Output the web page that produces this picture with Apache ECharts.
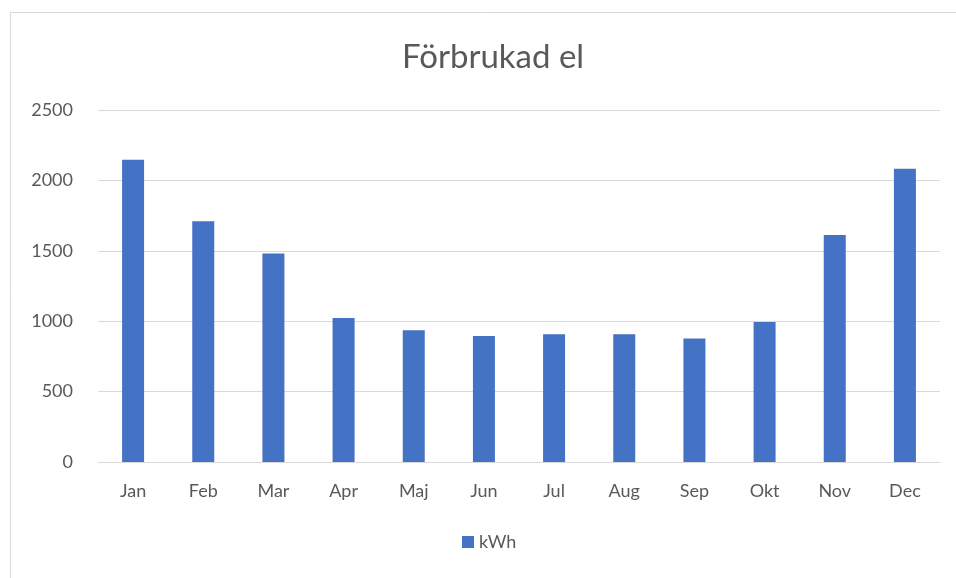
<!DOCTYPE html>
<html>
<head>
<meta charset="utf-8">
<script src="https://cdn.jsdelivr.net/npm/echarts@6/dist/echarts.min.js"></script>
<style>html,body{margin:0;padding:0;background:#fff}#c{width:956px;height:578px}</style>
</head>
<body>
<div id="c"></div>
<script>
const categories = ['Jan','Feb','Mar','Apr','Maj','Jun','Jul','Aug','Sep','Okt','Nov','Dec'];
const kWh = [2147,1709,1480,1023,935,895,907,907,878,994,1613,2083];
const seriesName = 'kWh';
const titleText = 'Förbrukad el';

const chart = echarts.init(document.getElementById('c'), null, {renderer:'canvas'});
chart.setOption({
  backgroundColor:'#fff',
  animation:false,
  graphic:[{type:'rect', shape:{x:10.5,y:12.5,width:980,height:600}, style:{fill:'none',stroke:'#d9d9d9',lineWidth:1}, z:-1}],
  title:{text:titleText, left:397, top:36, textStyle:{fontFamily:'Lato', fontSize:33, fontWeight:'normal', color:'#595959'}},
  grid:{left:98, right:16, top:110, bottom:116, containLabel:false},
  xAxis:{type:'category', data:categories,
    axisLine:{lineStyle:{color:'#d9d9d9'}}, axisTick:{show:false},
    axisLabel:{color:'#595959', fontFamily:'Lato', fontSize:18, margin:20}},
  yAxis:{type:'value', min:0, max:2500, interval:500,
    axisLine:{show:false}, axisTick:{show:false},
    splitLine:{lineStyle:{color:'#d9d9d9'}},
    axisLabel:{color:'#595959', fontFamily:'Lato', fontSize:18, margin:25, formatter:function(v){return String(v);}}},
  legend:{data:[seriesName], bottom:22, left:457, icon:'rect', itemWidth:12, itemHeight:12, itemGap:7,
    textStyle:{color:'#595959', fontFamily:'Lato', fontSize:18}},
  series:[{name:seriesName, type:'bar', data:kWh, barWidth:22, itemStyle:{color:'#4472C4'}}]
});
</script>
</body>
</html>
